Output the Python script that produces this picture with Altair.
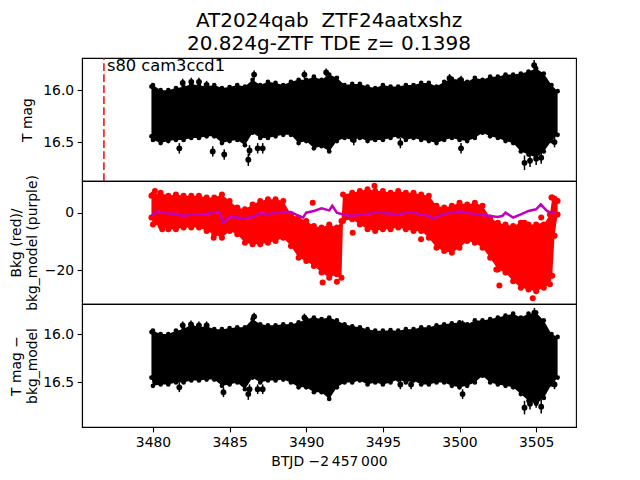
import altair as alt
import pandas as pd

FONT = "DejaVu Sans"

# ---------------- data ----------------
# sample times (BTJD - 2457000) for the envelope of the dense light curves
t_env = [3479.9, 3480.0, 3480.5, 3481.0, 3481.5, 3482.0, 3482.5, 3483.0, 3483.5, 3484.0,
         3484.5, 3485.0, 3485.5, 3486.0, 3486.5, 3487.0, 3487.5, 3488.0, 3488.5, 3489.0,
         3489.5, 3490.0, 3490.5, 3491.0, 3491.5, 3492.0, 3492.5, 3493.0, 3493.5, 3494.0,
         3494.5, 3495.0, 3495.5, 3496.0, 3496.5, 3497.0, 3497.5, 3498.0, 3498.5, 3499.0,
         3499.5, 3500.0, 3500.5, 3501.0, 3501.5, 3502.0, 3502.5, 3503.0, 3503.5, 3504.0,
         3504.5, 3505.0, 3505.5, 3506.0, 3506.4]

# panel 1: T mag band (bright edge / faint edge)
tmag_top = [15.965, 15.95, 16.00, 16.00, 15.98, 15.97, 15.94, 15.955, 15.965, 15.95,
            15.98, 15.97, 15.95, 15.965, 15.90, 15.95, 15.92, 15.93, 15.95, 15.92,
            15.90, 15.90, 15.87, 15.90, 15.85, 15.88, 15.95, 15.94, 15.94, 15.965,
            15.98, 15.95, 15.965, 15.965, 15.95, 15.95, 15.93, 15.93, 15.965, 15.92,
            15.89, 15.90, 15.92, 15.88, 15.90, 15.87, 15.87, 15.85, 15.85, 15.84,
            15.82, 15.79, 15.84, 15.95, 16.01]
tmag_bot = [16.445, 16.48, 16.51, 16.49, 16.48, 16.48, 16.46, 16.46, 16.445, 16.445,
            16.51, 16.49, 16.48, 16.53, 16.41, 16.46, 16.46, 16.445, 16.43, 16.43,
            16.51, 16.49, 16.56, 16.54, 16.59, 16.49, 16.46, 16.48, 16.46, 16.49,
            16.48, 16.48, 16.46, 16.445, 16.48, 16.46, 16.48, 16.49, 16.51, 16.48,
            16.46, 16.48, 16.49, 16.46, 16.41, 16.445, 16.46, 16.49, 16.51, 16.59,
            16.62, 16.65, 16.59, 16.49, 16.43]
# isolated points with error bars
p1_out_t = [3481.72, 3483.9, 3484.65, 3486.22, 3486.3, 3486.83, 3487.16, 3481.94, 3482.5,
            3483.0, 3483.5, 3486.6, 3489.88, 3491.3, 3504.24, 3505.33, 3506.2, 3500.1,
            3496.14, 3493.1, 3500.1, 3499.35, 3504.87, 3504.6, 3505.0]
p1_out_m = [16.56, 16.59, 16.62, 16.67, 16.58, 16.56, 16.56, 15.93, 15.92,
            15.92, 15.95, 15.85, 15.85, 15.83, 16.70, 16.65, 16.50, 16.56,
            16.51, 16.48, 15.90, 15.885, 15.76, 16.68, 16.66]
p1_out_e = [0.05, 0.05, 0.05, 0.06, 0.05, 0.05, 0.05, 0.04, 0.04,
            0.04, 0.04, 0.04, 0.04, 0.04, 0.07, 0.06, 0.05, 0.05,
            0.05, 0.05, 0.04, 0.04, 0.05, 0.06, 0.06]

# panel 3: T mag - bkg_model band
tcor_top = [15.98, 15.965, 16.00, 16.00, 15.965, 15.95, 15.90, 15.93, 15.92, 15.95,
            15.95, 15.94, 15.93, 15.93, 15.845, 15.90, 15.91, 15.91, 15.90, 15.90,
            15.88, 15.845, 15.83, 15.845, 15.83, 15.86, 15.90, 15.92, 15.93, 15.95,
            15.965, 15.965, 15.96, 15.965, 15.95, 15.95, 15.93, 15.93, 15.91, 15.90,
            15.89, 15.88, 15.90, 15.86, 15.86, 15.845, 15.83, 15.81, 15.79, 15.83,
            15.79, 15.78, 15.86, 16.00, 16.03]
tcor_bot = [16.45, 16.535, 16.52, 16.52, 16.50, 16.50, 16.48, 16.48, 16.47, 16.47,
            16.535, 16.52, 16.50, 16.57, 16.45, 16.50, 16.48, 16.48, 16.47, 16.50,
            16.55, 16.55, 16.60, 16.60, 16.67, 16.55, 16.50, 16.50, 16.48, 16.52,
            16.50, 16.52, 16.50, 16.47, 16.50, 16.48, 16.52, 16.52, 16.50, 16.50,
            16.535, 16.55, 16.535, 16.50, 16.43, 16.50, 16.52, 16.535, 16.55, 16.62,
            16.69, 16.72, 16.66, 16.52, 16.45]
p3_out_t = [3481.72, 3486.22, 3486.3, 3486.83, 3487.16, 3484.6, 3486.6, 3489.88, 3482.48,
            3481.94, 3483.0, 3483.5, 3504.24, 3505.33, 3506.2, 3500.2, 3496.14, 3496.84,
            3500.2, 3504.89, 3504.6, 3505.0]
p3_out_m = [16.55, 16.62, 16.57, 16.57, 16.57, 16.60, 15.82, 15.83, 15.90,
            15.91, 15.91, 15.91, 16.76, 16.75, 16.52, 16.62, 16.52, 16.52,
            15.90, 15.78, 16.72, 16.70]
p3_out_e = [0.05, 0.06, 0.05, 0.05, 0.05, 0.05, 0.04, 0.04, 0.04,
            0.04, 0.04, 0.04, 0.07, 0.07, 0.05, 0.05, 0.05, 0.05,
            0.04, 0.05, 0.06, 0.06]

# panel 2: background (red) envelope
t_bkg = [3479.9, 3480.0, 3480.5, 3481.0, 3481.5, 3482.0, 3482.5, 3483.0, 3483.5, 3484.0,
         3484.5, 3485.0, 3485.5, 3486.0, 3486.5, 3487.0, 3487.5, 3488.0, 3488.5, 3489.0,
         3489.5, 3490.0, 3490.5, 3491.0, 3491.5, 3492.0, 3492.3, 3492.4, 3493.0, 3493.5,
         3494.0, 3494.5, 3495.0, 3495.5, 3496.0, 3496.5, 3497.0, 3497.5, 3498.0, 3498.5,
         3499.0, 3499.5, 3500.0, 3500.5, 3501.0, 3501.5, 3502.0, 3502.5, 3503.0, 3503.5,
         3504.0, 3504.5, 3505.0, 3505.5, 3505.9, 3506.05, 3506.2, 3506.4]
bkg_top = [6.0, 6.5, 7.1, 6.0, 6.5, 6.0, 6.0, 6.0, 5.4, 5.4,
           6.5, 4.2, 1.9, 1.3, 3.0, 4.2, 4.8, 4.8, 4.2, -0.5,
           -1.6, -2.8, -4.6, -5.1, -4.0, -5.1, -2.8, 6.5, 7.1, 7.7,
           8.3, 7.7, 7.7, 7.1, 7.7, 7.1, 7.1, 6.5, 6.0, 2.5,
           1.9, 2.5, 3.6, 3.0, 3.6, 2.5, -1.6, -3.4, -4.0, -4.6,
           -3.4, -4.0, -4.0, -4.0, -0.5, 5.4, 5.0, 4.2]
bkg_bot = [-1.6, -4.0, -4.6, -5.7, -5.7, -5.1, -5.1, -5.1, -6.3, -7.5,
           -8.7, -6.3, -7.5, -10.4, -11.0, -11.0, -10.4, -9.8, -8.7, -11.6,
           -15.7, -16.8, -18.6, -20.9, -22.7, -21.5, -22.7, -2.8, -2.2, -4.0,
           -5.7, -6.3, -5.7, -5.7, -5.1, -5.7, -6.3, -6.3, -8.7, -12.2,
           -13.3, -13.9, -12.2, -9.8, -10.4, -12.2, -15.7, -19.8, -20.9, -23.9,
           -26.2, -26.8, -27.4, -26.2, -25.0, -22.0, -8.0, -0.5]
red_out_t = [3480.13, 3490.42, 3491.07, 3492.0, 3493.03, 3480.6, 3483.96, 3494.45, 3497.49,
             3502.6, 3504.78, 3504.24, 3505.33, 3505.33, 3506.0, 3499.1, 3502.4]
red_out_v = [7.7, 3.6, -24.4, -24.1, -6.9, -5.7, -8.7, 9.5, -9.2,
             -25.4, -29.9, -3.4, -1.6, -4.6, 5.4, -12.7, -19.8]

# background model (purple)
t_model = [3479.9, 3480.0, 3480.3, 3480.6, 3481.0, 3481.5, 3482.0, 3482.5, 3483.0, 3483.5,
           3484.0, 3484.3, 3484.6, 3485.0, 3485.5, 3486.0, 3486.5, 3487.0, 3487.5, 3488.0,
           3488.5, 3489.0, 3489.5, 3489.8, 3490.0, 3490.5, 3491.0, 3491.5, 3491.7, 3492.0,
           3492.5, 3493.0, 3493.5, 3494.0, 3494.5, 3495.0, 3495.5, 3496.0, 3496.5, 3497.0,
           3497.5, 3498.0, 3498.3, 3498.6, 3499.0, 3499.5, 3500.0, 3500.5, 3501.0, 3501.5,
           3502.0, 3502.5, 3502.8, 3503.0, 3503.5, 3504.0, 3504.5, 3505.0, 3505.3, 3505.7,
           3506.0, 3506.3]
bkg_model = [-1.0, -0.5, 0.6, 0.2, -0.2, -0.3, -1.05, -0.5, -0.5, -0.3,
             0.1, 0.5, -3.4, -1.4, -1.6, -1.9, -1.4, -0.1, -0.4, 0.1,
             0.3, 0.35, -1.05, -1.6, 0.1, 0.7, 1.6, 0.9, 2.5, 0.1,
             -0.7, -1.05, -0.5, -0.5, 0.3, 0.1, -0.3, -0.5, 0.1, 0.1,
             -0.5, -1.05, -2.2, -1.0, -0.5, 0.2, 0.5, 0.2, -0.5, -0.7,
             -1.05, -1.4, -1.0, 0.1, -1.6, -0.5, 0.7, 1.3, 3.0, 0.7,
             0.1, -0.1]

sector_t = [3476.8]
sector_label = ["s80 cam3ccd1"]
x_ticks = [3480, 3485, 3490, 3495, 3500, 3505]
title_lines = ["AT2024qab\u00a0\u00a0ZTF24aatxshz", "20.824g-ZTF TDE z= 0.1398"]

# ---------------- tables ----------------
env1 = pd.DataFrame({"t": t_env, "top": tmag_top, "bot": tmag_bot})
env3 = pd.DataFrame({"t": t_env, "top": tcor_top, "bot": tcor_bot})
edge1 = pd.concat([pd.DataFrame({"t": t_env, "m": tmag_top}),
                   pd.DataFrame({"t": t_env, "m": tmag_bot})])
edge3 = pd.concat([pd.DataFrame({"t": t_env, "m": tcor_top}),
                   pd.DataFrame({"t": t_env, "m": tcor_bot})])
out1 = pd.DataFrame({"t": p1_out_t, "m": p1_out_m, "e": p1_out_e})
out1["lo"] = out1["m"] - out1["e"]
out1["hi"] = out1["m"] + out1["e"]
out3 = pd.DataFrame({"t": p3_out_t, "m": p3_out_m, "e": p3_out_e})
out3["lo"] = out3["m"] - out3["e"]
out3["hi"] = out3["m"] + out3["e"]
bkg = pd.DataFrame({"t": t_bkg, "top": bkg_top, "bot": bkg_bot})
bkg_pts = pd.concat([
    pd.DataFrame({"t": t_bkg, "v": bkg_top}),
    pd.DataFrame({"t": t_bkg, "v": bkg_bot}),
    pd.DataFrame({"t": red_out_t, "v": red_out_v}),
])
model = pd.DataFrame({"t": t_model, "v": bkg_model})
sector = pd.DataFrame({"t": sector_t, "label": sector_label})

W, H = 494, 123
xscale = alt.Scale(domain=[3475.37, 3507.6], nice=False, zero=False)
mag_scale1 = alt.Scale(domain=[15.69, 16.875], reverse=True, nice=False, zero=False)
mag_scale3 = alt.Scale(domain=[15.69, 16.96], reverse=True, nice=False, zero=False)
bkg_scale = alt.Scale(domain=[-31.9, 11.2], nice=False, zero=False)


def yaxis(values, title, tx):
    return alt.Axis(values=values, format=".1f" if values[0] > 10 else "d", title=title,
                    titleAngle=270, titleX=tx, titleY=H / 2, titleAlign="center",
                    titleBaseline="middle", titleLineHeight=16)


def light_panel(env, edge, out, yscale, ytitle, tx, xaxis):
    xa = alt.X("t:Q", scale=xscale, axis=xaxis, title=None)
    band = alt.Chart(env).mark_area(color="black", opacity=1, strokeWidth=0).encode(
        x=xa,
        y=alt.Y("top:Q", scale=yscale, axis=yaxis([16.0, 16.5], ytitle, tx)),
        y2="bot:Q",
    )
    edots = alt.Chart(edge).mark_circle(color="black", size=22, opacity=1).encode(
        x="t:Q", y="m:Q")
    bars = alt.Chart(out).mark_rule(color="black", strokeWidth=1.5).encode(
        x="t:Q", y="lo:Q", y2="hi:Q")
    dots = alt.Chart(out).mark_circle(color="black", size=34, opacity=1).encode(
        x="t:Q", y="m:Q")
    return alt.layer(band, edots, bars, dots).properties(width=W, height=H)


vline = alt.Chart(sector).mark_rule(color="red", strokeDash=[7.7, 3.3], strokeWidth=1.5).encode(
    x="t:Q", y=alt.value(H), y2=alt.value(0))
vtext = alt.Chart(sector).mark_text(align="left", baseline="top", dx=3, dy=0, font=FONT,
                                   fontSize=16.3, color="black").encode(
    x="t:Q", y=alt.value(0), text="label:N")

p1 = alt.layer(light_panel(env1, edge1, out1, mag_scale1, "T mag", -55, None),
               vline, vtext).properties(
    width=W, height=H,
    title=alt.TitleParams(text=title_lines, font=FONT, fontSize=20, fontWeight="normal",
                          anchor="middle", lineHeight=23.5, offset=3, color="black"))

red_band = alt.Chart(bkg).mark_area(color="#ff0000", opacity=1).encode(
    x=alt.X("t:Q", scale=xscale, axis=None),
    y=alt.Y("top:Q", scale=bkg_scale,
            axis=yaxis([-20, 0], ["Bkg (red)/", "bkg_model (purple)"], -66)),
    y2="bot:Q")
red_dots = alt.Chart(bkg_pts).mark_circle(color="#ff0000", size=36, opacity=1).encode(
    x="t:Q", y="v:Q")
purple = alt.Chart(model).mark_line(color="#bf00bf", strokeWidth=2.5).encode(
    x="t:Q", y="v:Q")
p2 = alt.layer(red_band, red_dots, purple).properties(width=W, height=H)

x_axis = alt.Axis(values=x_ticks, format="d", title="BTJD \u22122\u2009457\u2009000",
                  titlePadding=5)
p3 = light_panel(env3, edge3, out3, mag_scale3, ["T mag \u2212", "bkg_model"], -66, x_axis)

chart = alt.vconcat(p1, p2, p3, spacing=0, bounds="flush").properties(
    padding={"left": 0, "top": 2, "right": 10, "bottom": 5}
).configure_view(stroke="black", strokeWidth=1.1).configure_axis(
    labelFont=FONT, titleFont=FONT, labelFontSize=13.9, titleFontSize=13.9,
    titleFontWeight="normal", labelColor="black", titleColor="black",
    tickColor="black", domainColor="black", tickSize=4.86, tickWidth=1.1,
    domainWidth=1.1, labelPadding=3.5, grid=False
)

chart.save("out.html", embed_options={"renderer": "svg", "actions": False})
